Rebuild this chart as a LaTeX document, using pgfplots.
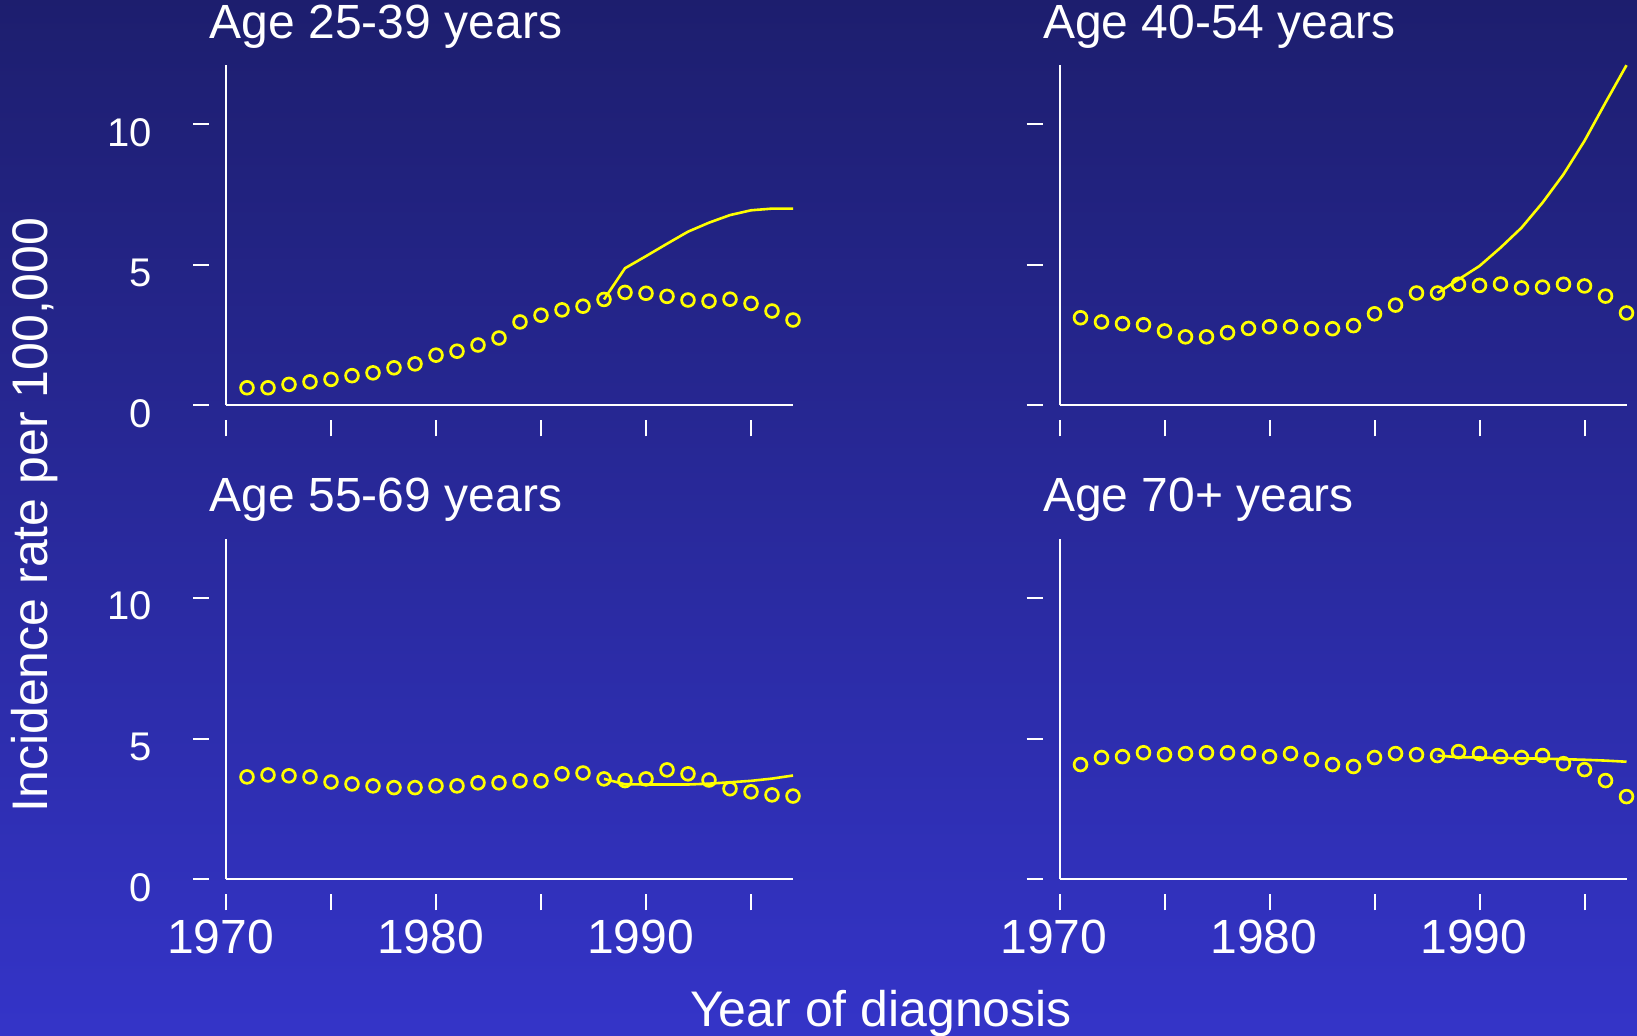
\documentclass[border=0pt]{standalone}
\usepackage{pgfplots}
\pgfplotsset{compat=1.18}
\usepackage{fontspec}
\setmainfont{Liberation Sans}
\definecolor{bgtop}{RGB}{29,30,110}
\definecolor{bgbot}{RGB}{52,52,200}
\definecolor{ylw}{RGB}{255,255,0}
\pgfplotsset{
  panel/.style={
    scale only axis, width=283.5pt, height=170.15pt,
    anchor=south west,
    xmin=1970, xmax=1997, ymin=0, ymax=12.1,
    axis x line*=bottom, axis y line*=left,
    axis line style={white, line width=1pt, -},
    xtick={1970,1975,1980,1985,1990,1995}, ytick={0,5,10},
    tick align=outside, major tick length=8pt,
    every tick/.style={white, line width=1pt},
    xtick style={yshift=-7.5pt}, ytick style={xshift=-8.5pt},
    xticklabel style={font=\fontsize{24}{24}\selectfont, text=white, anchor=center, yshift=-21pt, xshift=-2.8pt},
    yticklabel style={font=\fontsize{20}{20}\selectfont, text=white, anchor=east, xshift=-25.5pt, yshift=-4pt},
    xticklabels={}, yticklabels={},
    clip=false,
  },
  pts/.style={only marks, mark=o, mark size=3.2pt, color=ylw, mark options={line width=1.35pt}},
  fit/.style={no marks, color=ylw, line width=1.3pt},
}
\begin{document}
\begin{tikzpicture}
\useasboundingbox (0,0) rectangle (818.5pt,518pt);
\shade[top color=bgtop, bottom color=bgbot] (0,0) rectangle (818.5pt,518pt);

% Top-left: Age 25-39
\begin{axis}[panel, at={(113pt,315.25pt)}, yticklabels={0,5,10}]
\addplot[pts] coordinates {(1971,0.63)(1972,0.63)(1973,0.75)(1974,0.84)(1975,0.93)(1976,1.06)(1977,1.16)(1978,1.34)(1979,1.48)(1980,1.79)(1981,1.93)(1982,2.15)(1983,2.40)(1984,2.97)(1985,3.21)(1986,3.40)(1987,3.53)(1988,3.77)(1989,4.02)(1990,3.99)(1991,3.88)(1992,3.75)(1993,3.71)(1994,3.78)(1995,3.63)(1996,3.36)(1997,3.04)};
\addplot[fit] coordinates {(1988,3.77)(1989,4.88)(1990,5.31)(1991,5.75)(1992,6.18)(1993,6.50)(1994,6.77)(1995,6.94)(1996,7.00)(1997,7.00)};
\end{axis}

% Top-right: Age 40-54
\begin{axis}[panel, at={(529.75pt,315.25pt)}]
\addplot[pts] coordinates {(1971,3.12)(1972,2.97)(1973,2.91)(1974,2.87)(1975,2.65)(1976,2.44)(1977,2.44)(1978,2.59)(1979,2.74)(1980,2.80)(1981,2.80)(1982,2.73)(1983,2.73)(1984,2.84)(1985,3.26)(1986,3.57)(1987,4.00)(1988,4.00)(1989,4.31)(1990,4.27)(1991,4.32)(1992,4.18)(1993,4.21)(1994,4.31)(1995,4.25)(1996,3.89)(1997,3.29)};
\addplot[fit] coordinates {(1988,4.00)(1989,4.48)(1990,4.96)(1991,5.61)(1992,6.32)(1993,7.21)(1994,8.22)(1995,9.41)(1996,10.77)(1997,12.10)};
\end{axis}

% Bottom-left: Age 55-69
\begin{axis}[panel, at={(113pt,78.35pt)}, yticklabels={0,5,10}, xticklabels={1970,,1980,,1990,}]
\addplot[pts] coordinates {(1971,3.64)(1972,3.71)(1973,3.68)(1974,3.64)(1975,3.46)(1976,3.39)(1977,3.32)(1978,3.26)(1979,3.26)(1980,3.32)(1981,3.32)(1982,3.43)(1983,3.43)(1984,3.50)(1985,3.50)(1986,3.75)(1987,3.78)(1988,3.57)(1989,3.51)(1990,3.57)(1991,3.89)(1992,3.75)(1993,3.53)(1994,3.22)(1995,3.11)(1996,3.00)(1997,2.96)};
\addplot[fit] coordinates {(1988,3.57)(1989,3.38)(1990,3.37)(1991,3.37)(1992,3.37)(1993,3.40)(1994,3.45)(1995,3.50)(1996,3.58)(1997,3.69)};
\end{axis}

% Bottom-right: Age 70+
\begin{axis}[panel, at={(529.75pt,78.35pt)}, xticklabels={1970,,1980,,1990,}]
\addplot[pts] coordinates {(1971,4.08)(1972,4.33)(1973,4.36)(1974,4.50)(1975,4.43)(1976,4.47)(1977,4.50)(1978,4.50)(1979,4.50)(1980,4.36)(1981,4.47)(1982,4.26)(1983,4.08)(1984,4.01)(1985,4.33)(1986,4.47)(1987,4.43)(1988,4.40)(1989,4.54)(1990,4.47)(1991,4.36)(1992,4.33)(1993,4.40)(1994,4.11)(1995,3.90)(1996,3.51)(1997,2.94)};
\addplot[fit] coordinates {(1988,4.40)(1989,4.34)(1990,4.33)(1991,4.31)(1992,4.30)(1993,4.29)(1994,4.27)(1995,4.25)(1996,4.22)(1997,4.18)};
\end{axis}

% Panel titles
\node[anchor=base west, inner sep=0pt, text=white, font=\fontsize{24}{24}\selectfont] at (104.75pt,498.85pt) {Age 25-39 years};
\node[anchor=base west, inner sep=0pt, text=white, font=\fontsize{24}{24}\selectfont] at (521.35pt,498.85pt) {Age 40-54 years};
\node[anchor=base west, inner sep=0pt, text=white, font=\fontsize{24}{24}\selectfont] at (104.75pt,262.15pt) {Age 55-69 years};
\node[anchor=base west, inner sep=0pt, text=white, font=\fontsize{24}{24}\selectfont] at (521.35pt,262.15pt) {Age 70+ years};

% Outer axis labels
\node[anchor=base, inner sep=0pt, text=white, font=\fontsize{25}{25}\selectfont] at (440.5pt,4.65pt) {Year of diagnosis};
\node[anchor=base, rotate=90, inner sep=0pt, text=white, font=\fontsize{25}{25}\selectfont] at (23.5pt,260.5pt) {Incidence rate per 100,000};
\end{tikzpicture}
\end{document}
